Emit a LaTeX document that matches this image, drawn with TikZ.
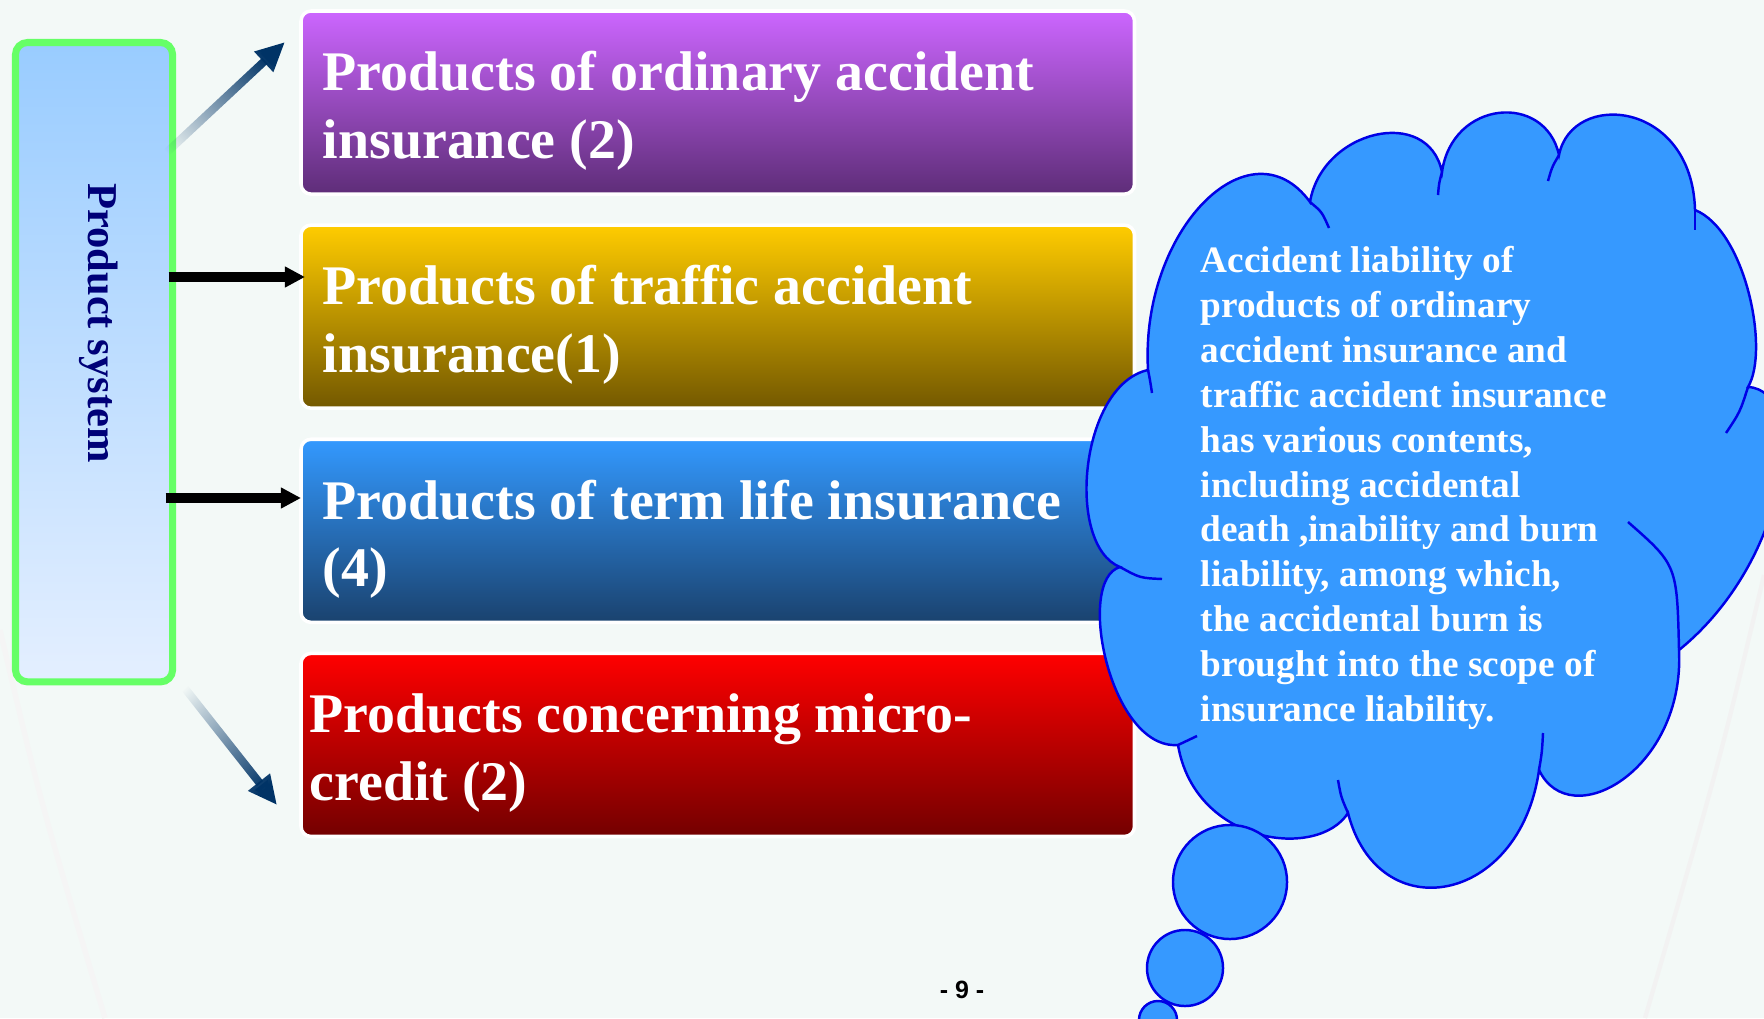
\documentclass[tikz,border=0pt]{standalone}
\usepackage{fontspec}
\setmainfont{Liberation Serif}
\newfontfamily\pagefont{Liberation Sans}
\usepackage{tikz}
\usetikzlibrary{positioning}
\usetikzlibrary{arrows.meta}
\usetikzlibrary{fadings}
\definecolor{bgmint}{RGB}{243,249,247}
\definecolor{systop}{RGB}{153,204,255}
\definecolor{sysbot}{RGB}{228,239,255}
\definecolor{sysgreen}{RGB}{102,255,102}
\definecolor{sysnavy}{RGB}{0,0,120}
\definecolor{arrnavy}{RGB}{0,51,102}
\definecolor{cloudblue}{RGB}{54,153,255}
\definecolor{cloudline}{RGB}{0,0,230}
\tikzfading[name=fadein, left color=transparent!100, right color=transparent!0]
\tikzstyle{prodbox} = [rectangle, rounded corners=0.1cm, minimum width=8.33cm, minimum height=1.83cm, draw=white, line width=1pt, inner sep=0pt, outer sep=0pt]
\tikzstyle{prodtext} = [text=white, font=\fontsize{15.9}{19.2}\selectfont\bfseries, align=left, inner sep=0pt, anchor=west]
\tikzstyle{blackarrow} = [line width=2.85pt, -{Triangle[length=5.7pt,width=5.6pt]}]
\tikzstyle{fadearrow} = [line width=2.3pt, arrnavy, -{Triangle[length=8.3pt,width=7.4pt]}, path fading=fadein]
\tikzstyle{puff} = [fill=cloudblue, draw=cloudline, line width=0.7pt]

\begin{document}
\begin{tikzpicture}[x=0.01cm,y=-0.01cm]
	\useasboundingbox (0,0) rectangle (1764,1018);
	\fill[bgmint] (0,0) rectangle (1764,1018);
	\draw[black!5, line width=1.2pt] (1764,575) .. controls (1720,760) .. (1645,1018);
	\draw[black!4, line width=1.5pt] (0,630) .. controls (40,800) .. (105,1018);
	
	% left box
	\node[rectangle, rounded corners=0.12cm, draw=sysgreen, line width=2pt, top color=systop, bottom color=sysbot, minimum width=1.57cm, minimum height=6.39cm, inner sep=0pt, outer sep=0pt, anchor=north west] (sys) at (15.5,42.5) {};
	\node[rotate=-90, text=sysnavy, font=\fontsize{12.1}{14}\selectfont\bfseries, inner sep=0pt] (systext) at (99,323) {Product system};
	
	% product boxes
	\node[prodbox, top color={rgb,255:red,204;green,102;blue,255}, bottom color={rgb,255:red,94;green,45;blue,120}, anchor=north west] (b1) at (301,11) {};
	\node[prodbox, top color={rgb,255:red,255;green,204;blue,0}, bottom color={rgb,255:red,115;green,88;blue,0}, below=0.31cm of b1] (b2) {};
	\node[prodbox, top color={rgb,255:red,51;green,153;blue,255}, bottom color={rgb,255:red,26;green,66;blue,110}, below=0.31cm of b2] (b3) {};
	\node[prodbox, top color={rgb,255:red,255;green,0;blue,0}, bottom color={rgb,255:red,115;green,0;blue,0}, below=0.31cm of b3] (b4) {};
	
	\node[prodtext] (t1) at ([xshift=0.21cm,yshift=-0.083cm]b1.west) {Products of ordinary accident\\insurance (2)};
	\node[prodtext] (t2) at ([xshift=0.21cm,yshift=-0.083cm]b2.west) {Products of traffic accident\\insurance(1)};
	\node[prodtext] (t3) at ([xshift=0.21cm,yshift=-0.083cm]b3.west) {Products of term life insurance\\(4)};
	\node[prodtext] (t4) at ([xshift=0.08cm,yshift=-0.083cm]b4.west) {Products concerning micro-\\credit (2)};
	
	% arrows
	\coordinate (a1s) at (150,168);
	\coordinate (a1e) at (285,42);
	\coordinate (a2) at (0,277);
	\coordinate (a3) at (0,498);
	\coordinate (a4s) at (172,672);
	\coordinate (a4e) at (277,805);
	\draw[fadearrow, fading angle=43] (a1s) -- (a1e);
	\draw[blackarrow, shorten <=-0.04cm, shorten >=-0.04cm] (sys.east |- a2) -- (b2.west |- a2);
	\draw[blackarrow, shorten <=-0.07cm] (sys.east |- a3) -- (b3.west |- a3);
	\draw[fadearrow, fading angle=-52] (a4s) -- (a4e);
	
	% thought cloud
	\draw[puff] (1148,370) .. controls (1140,230) and (1250,120) .. (1310,202)
		.. controls (1322,130) and (1428,105) .. (1442,172)
		.. controls (1452,100) and (1545,92) .. (1559,155)
		.. controls (1572,90) and (1692,100) .. (1695,210)
		.. controls (1745,230) and (1770,350) .. (1748,387)
		.. controls (1810,390) and (1790,560) .. (1679,650)
		.. controls (1685,770) and (1570,835) .. (1539,770)
		.. controls (1520,905) and (1378,930) .. (1348,813)
		.. controls (1318,860) and (1195,845) .. (1178,745)
		.. controls (1110,750) and (1075,580) .. (1120,567)
		.. controls (1065,545) and (1080,385) .. (1148,370) -- cycle;
	\draw[cloudline, line width=0.7pt] (1148,370) .. controls (1150,380) .. (1152,393);
	\draw[cloudline, line width=0.7pt] (1310,202) .. controls (1322,212) .. (1329,228);
	\draw[cloudline, line width=0.7pt] (1442,172) .. controls (1439,183) .. (1438,195);
	\draw[cloudline, line width=0.7pt] (1559,155) .. controls (1552,167) .. (1548,181);
	\draw[cloudline, line width=0.7pt] (1695,210) -- (1695,230);
	\draw[cloudline, line width=0.7pt] (1748,387) .. controls (1740,412) .. (1726,433);
	\draw[cloudline, line width=0.7pt] (1628,522) .. controls (1677,565) .. (1679,650);
	\draw[cloudline, line width=0.7pt] (1539,770) .. controls (1542,752) .. (1543,733);
	\draw[cloudline, line width=0.7pt] (1348,813) .. controls (1341,797) .. (1338,780);
	\draw[cloudline, line width=0.7pt] (1178,745) .. controls (1188,741) .. (1197,736);
	\draw[cloudline, line width=0.7pt] (1120,567) .. controls (1140,578) .. (1162,579);
	\draw[puff] (1230,882) circle[radius=0.57cm];
	\draw[puff] (1185,968) circle[radius=0.38cm];
	\draw[puff] (1158,1020) circle[radius=0.19cm];
	
	\node[text=white, font=\fontsize{10.6}{12.75}\selectfont\bfseries, align=left, inner sep=0pt, anchor=north west] (note) at (1200,246) {Accident liability of\\products of ordinary\\accident insurance and\\traffic accident insurance\\has various contents,\\including accidental\\death ,inability and burn\\liability, among which,\\the accidental burn is\\brought into the scope of\\insurance liability.};
	
	\node[font=\pagefont\fontsize{7.1}{8}\selectfont\bfseries, inner sep=0pt] (page) at (962,990) {- 9 -};
\end{tikzpicture}
\end{document}
